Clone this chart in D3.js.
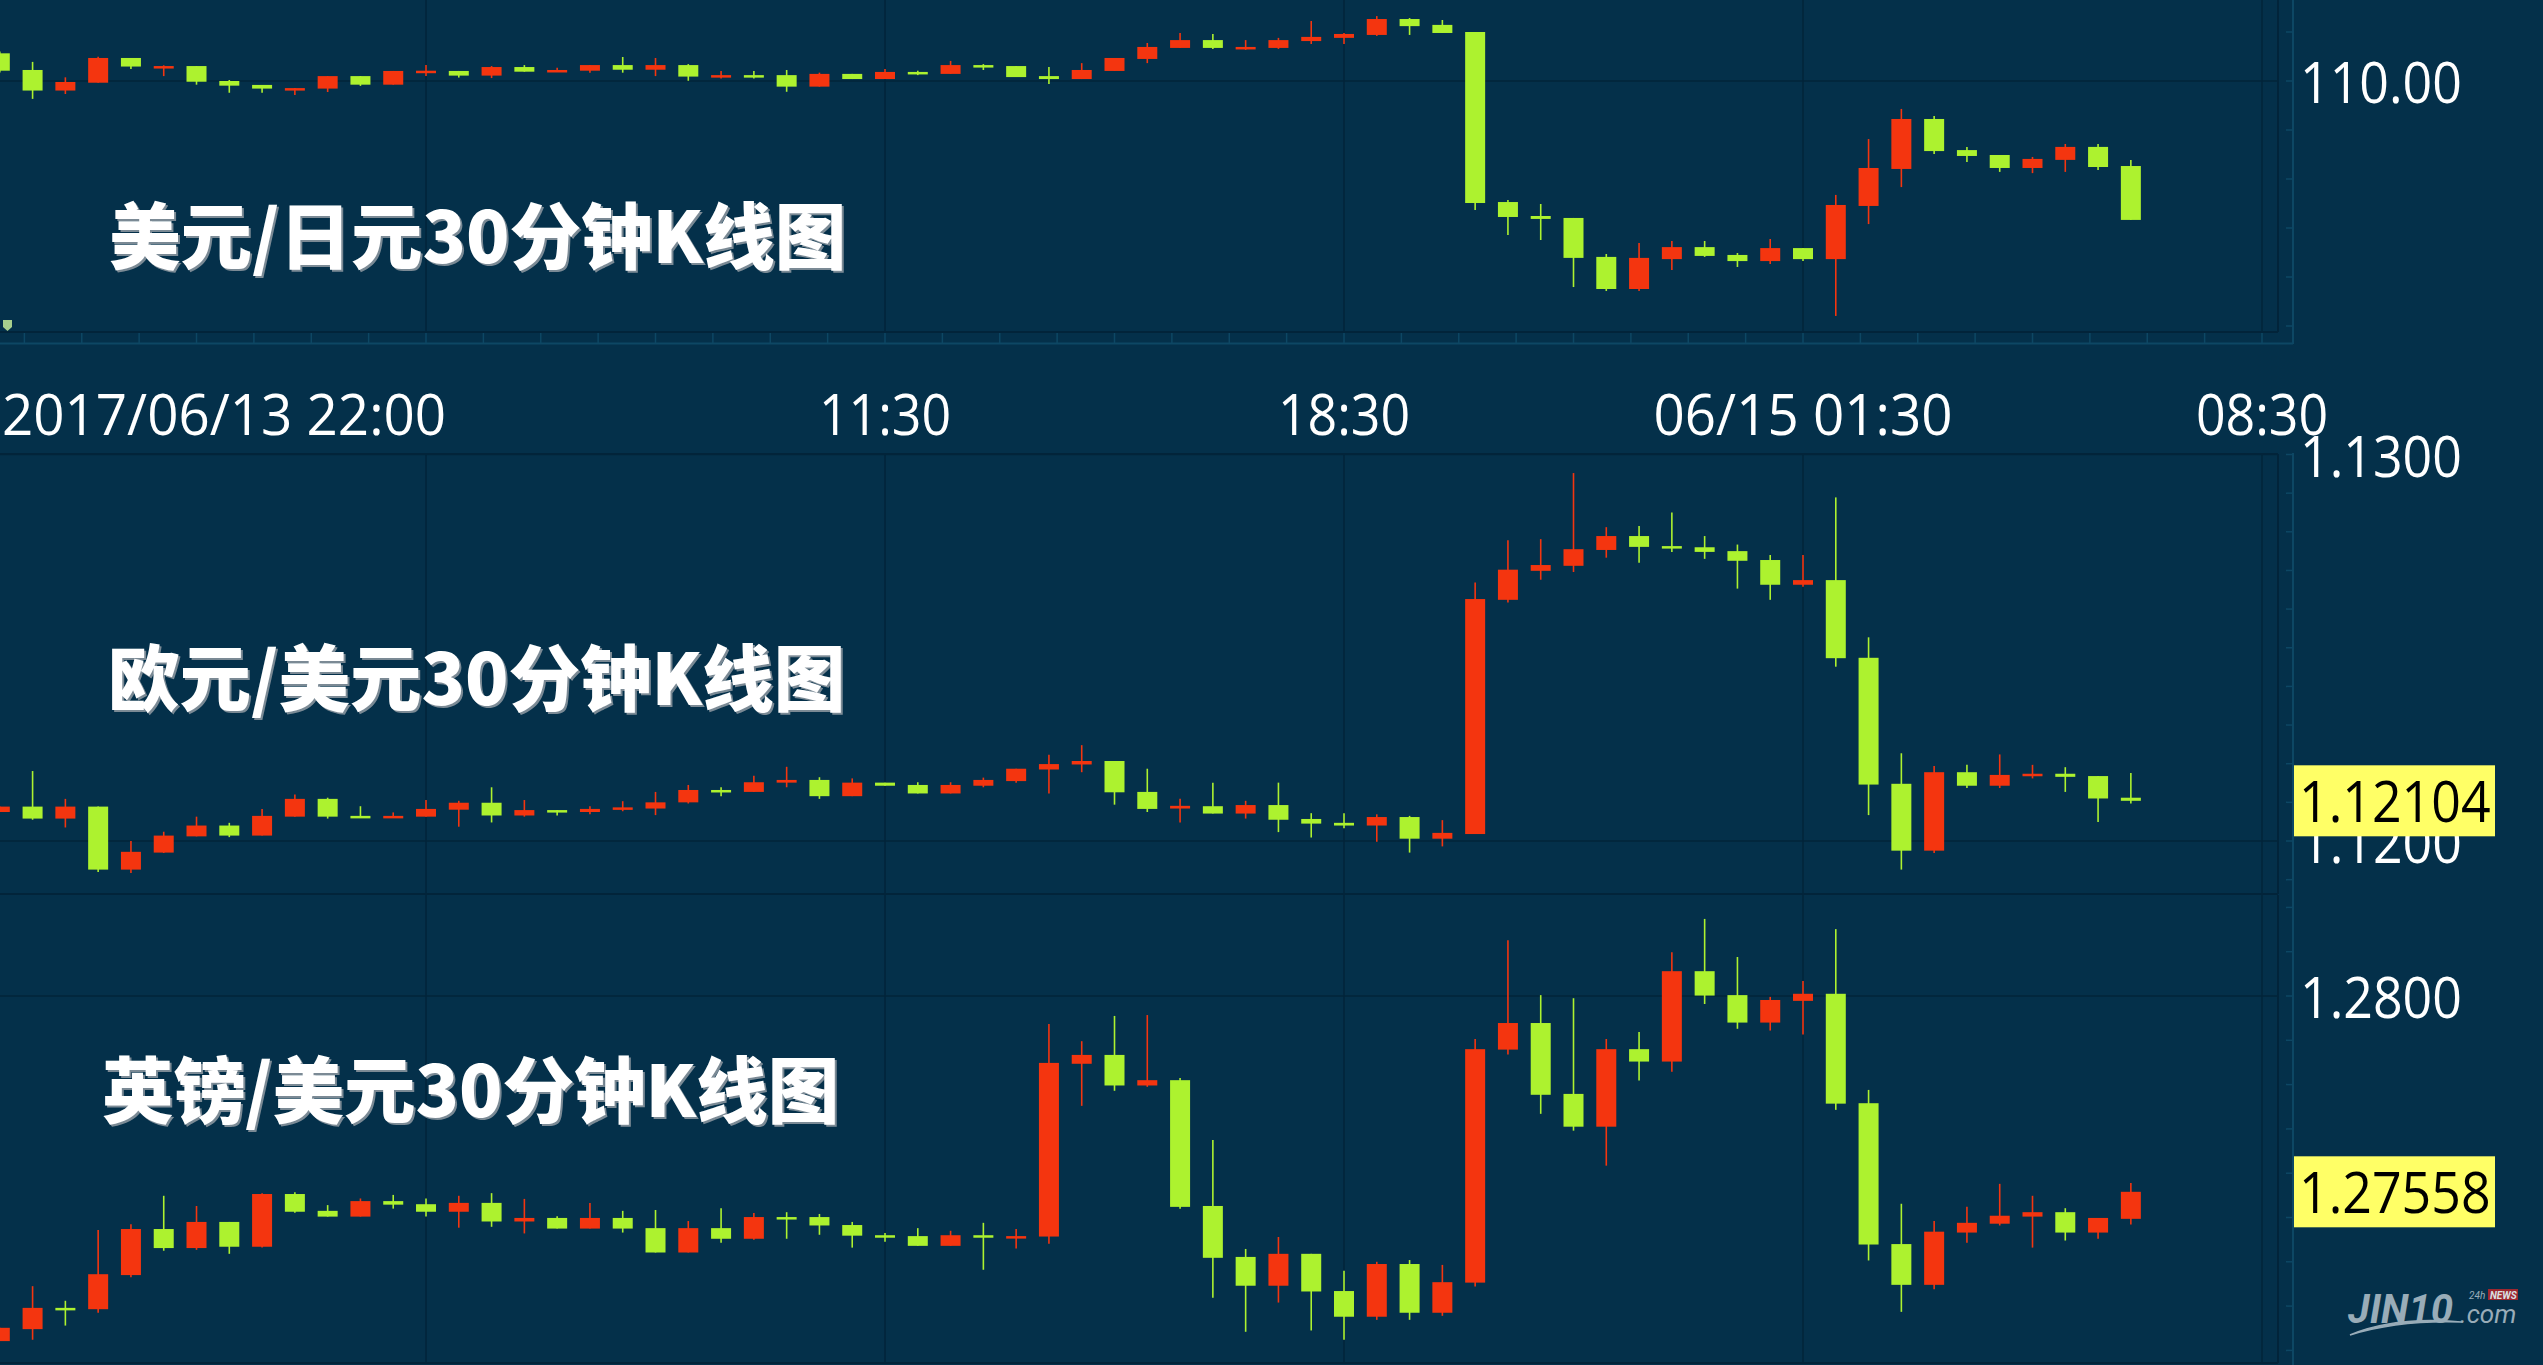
<!DOCTYPE html>
<html><head><meta charset="utf-8">
<script src="https://cdn.jsdelivr.net/npm/d3@7"></script>
<style>html,body{margin:0;padding:0;background:#04304a;overflow:hidden}</style>
</head><body><svg id="c" width="2543" height="1365"></svg>
<script>
// ---------- categories: 30-minute slots (last 4 are future slots on the axis) ----------
const slots = ["06/13 22:00","06/13 22:30","06/13 23:00","06/13 23:30",
"06/14 00:00","06/14 00:30","06/14 01:00","06/14 01:30","06/14 02:00","06/14 02:30","06/14 03:00","06/14 03:30",
"06/14 04:00","06/14 04:30","06/14 05:00","06/14 05:30","06/14 06:00","06/14 06:30","06/14 07:00","06/14 07:30",
"06/14 08:00","06/14 08:30","06/14 09:00","06/14 09:30","06/14 10:00","06/14 10:30","06/14 11:00","06/14 11:30",
"06/14 12:00","06/14 12:30","06/14 13:00","06/14 13:30","06/14 14:00","06/14 14:30","06/14 15:00","06/14 15:30",
"06/14 16:00","06/14 16:30","06/14 17:00","06/14 17:30","06/14 18:00","06/14 18:30","06/14 19:00","06/14 19:30",
"06/14 20:00","06/14 20:30","06/14 21:00","06/14 21:30","06/14 22:00","06/14 22:30","06/14 23:00","06/14 23:30",
"06/15 00:00","06/15 00:30","06/15 01:00","06/15 01:30","06/15 02:00","06/15 02:30","06/15 03:00","06/15 03:30",
"06/15 04:00","06/15 04:30","06/15 05:00","06/15 05:30","06/15 06:00","06/15 06:30",
"06/15 07:00","06/15 07:30","06/15 08:00","06/15 08:30"];
const timeTickSlots  = ["06/13 22:00","06/14 11:30","06/14 18:30","06/15 01:30","06/15 08:30"];
const timeTickLabels = ["2017/06/13 22:00","11:30","18:30","06/15 01:30","08:30"];
const gridSlots = ["06/14 04:30","06/14 11:30","06/14 18:30","06/15 01:30","06/15 08:30"];

// ---------- USD/JPY ----------
const jpyOpen = [110.113,110.045,109.961,109.993,110.094,110.059,110.061,110.000,109.984,109.969,
109.969,110.020,109.985,110.039,110.041,110.022,110.057,110.038,110.042,110.065,
110.046,110.065,110.018,110.024,110.024,109.977,110.029,110.008,110.037,110.029,
110.065,110.061,110.020,110.008,110.041,110.090,110.135,110.167,110.136,110.135,
110.163,110.176,110.188,110.253,110.229,110.200,109.506,109.449,109.441,109.282,
109.151,109.273,109.322,109.290,109.265,109.318,109.273,109.490,109.641,109.845,
109.718,109.698,109.645,109.678,109.731,109.653];
const jpyHigh = [110.120,110.078,110.015,110.099,110.094,110.064,110.061,110.004,109.984,109.971,
110.020,110.020,110.041,110.065,110.041,110.061,110.065,110.054,110.065,110.098,
110.094,110.069,110.041,110.041,110.045,110.034,110.029,110.049,110.042,110.082,
110.069,110.061,110.057,110.073,110.094,110.155,110.196,110.192,110.167,110.176,
110.245,110.196,110.265,110.257,110.249,110.200,109.514,109.498,109.441,109.294,
109.339,109.347,109.347,109.298,109.355,109.318,109.535,109.763,109.886,109.857,
109.731,109.698,109.690,109.743,109.743,109.678];
const jpyLow = [110.035,109.927,109.947,109.993,110.049,110.020,109.985,109.952,109.952,109.943,
109.955,109.980,109.985,110.020,110.014,110.012,110.038,110.037,110.034,110.034,
110.020,110.001,110.010,110.010,109.956,109.977,110.008,110.008,110.024,110.029,
110.045,110.016,109.988,110.008,110.041,110.073,110.135,110.131,110.127,110.131,
110.151,110.151,110.184,110.188,110.196,109.473,109.371,109.351,109.159,109.143,
109.143,109.229,109.282,109.241,109.253,109.265,109.041,109.416,109.567,109.702,
109.669,109.629,109.624,109.629,109.637,109.433];
const jpyClose = [110.042,109.961,109.996,110.094,110.059,110.061,109.997,109.981,109.969,109.971,
110.020,109.985,110.041,110.042,110.022,110.057,110.038,110.045,110.065,110.046,
110.065,110.018,110.024,110.022,109.977,110.029,110.008,110.037,110.029,110.065,
110.057,110.016,110.008,110.045,110.094,110.139,110.167,110.135,110.139,110.167,
110.180,110.192,110.253,110.224,110.196,109.502,109.445,109.437,109.278,109.151,
109.278,109.322,109.286,109.265,109.318,109.273,109.494,109.645,109.845,109.714,
109.694,109.645,109.682,109.731,109.649,109.433];

// ---------- EUR/USD ----------
const eurOpen = [1.12075,1.12089,1.12058,1.12089,1.11926,1.11970,1.12012,1.12040,1.12014,1.12063,
1.12109,1.12065,1.12061,1.12063,1.12081,1.12099,1.12066,1.12080,1.12075,1.12081,
1.12084,1.12100,1.12132,1.12127,1.12151,1.12158,1.12116,1.12151,1.12145,1.12123,
1.12143,1.12155,1.12185,1.12198,1.12207,1.12127,1.12084,1.12090,1.12071,1.12093,
1.12057,1.12047,1.12040,1.12062,1.12006,1.12018,1.12624,1.12699,1.12712,1.12753,
1.12789,1.12763,1.12760,1.12750,1.12727,1.12663,1.12675,1.12474,1.12148,1.11975,
1.12178,1.12143,1.12168,1.12174,1.12168,1.12112];
const eurHigh = [1.12089,1.12181,1.12109,1.12089,1.12000,1.12024,1.12063,1.12047,1.12083,1.12120,
1.12112,1.12090,1.12074,1.12106,1.12104,1.12139,1.12106,1.12080,1.12090,1.12103,
1.12127,1.12145,1.12139,1.12169,1.12192,1.12165,1.12162,1.12151,1.12152,1.12152,
1.12164,1.12187,1.12223,1.12248,1.12207,1.12187,1.12109,1.12151,1.12104,1.12151,
1.12072,1.12072,1.12069,1.12065,1.12054,1.12669,1.12778,1.12781,1.12952,1.12812,
1.12815,1.12850,1.12789,1.12767,1.12740,1.12740,1.12889,1.12527,1.12227,1.12194,
1.12197,1.12224,1.12197,1.12191,1.12168,1.12176];
const eurLow = [1.12075,1.12055,1.12035,1.11920,1.11917,1.11969,1.12012,1.12010,1.12014,1.12063,
1.12058,1.12061,1.12061,1.12063,1.12037,1.12048,1.12063,1.12066,1.12069,1.12077,
1.12067,1.12097,1.12116,1.12127,1.12139,1.12109,1.12116,1.12143,1.12123,1.12123,
1.12139,1.12151,1.12123,1.12178,1.12094,1.12075,1.12048,1.12071,1.12058,1.12023,
1.12009,1.12033,1.11998,1.11970,1.11986,1.12018,1.12617,1.12676,1.12696,1.12733,
1.12720,1.12748,1.12730,1.12653,1.12624,1.12658,1.12451,1.12067,1.11926,1.11969,
1.12137,1.12137,1.12162,1.12127,1.12049,1.12097];
const eurClose = [1.12089,1.12058,1.12089,1.11926,1.11972,1.12014,1.12040,1.12014,1.12065,1.12109,
1.12063,1.12061,1.12065,1.12083,1.12099,1.12066,1.12080,1.12075,1.12083,1.12087,
1.12100,1.12132,1.12127,1.12152,1.12158,1.12116,1.12151,1.12143,1.12123,1.12145,
1.12158,1.12187,1.12199,1.12207,1.12126,1.12083,1.12091,1.12071,1.12093,1.12055,
1.12045,1.12040,1.12062,1.12006,1.12021,1.12626,1.12702,1.12714,1.12755,1.12789,
1.12761,1.12758,1.12748,1.12725,1.12663,1.12675,1.12473,1.12146,1.11975,1.12178,
1.12143,1.12171,1.12174,1.12166,1.12110,1.12104];

// ---------- GBP/USD ----------
const gbpOpen = [1.27221,1.27248,1.27296,1.27293,1.27370,1.27474,1.27431,1.27490,1.27434,1.27553,
1.27515,1.27502,1.27537,1.27530,1.27513,1.27533,1.27491,1.27499,1.27475,1.27499,
1.27476,1.27421,1.27476,1.27452,1.27501,1.27501,1.27483,1.27460,1.27458,1.27436,
1.27460,1.27457,1.27457,1.27847,1.27867,1.27798,1.27810,1.27526,1.27411,1.27346,
1.27418,1.27334,1.27276,1.27395,1.27285,1.27353,1.27879,1.27939,1.27779,1.27705,
1.27880,1.27852,1.28056,1.28002,1.27940,1.27989,1.28005,1.27758,1.27440,1.27348,
1.27466,1.27486,1.27502,1.27512,1.27466,1.27497];
const gbpHigh = [1.27251,1.27345,1.27312,1.27472,1.27485,1.27549,1.27526,1.27490,1.27555,1.27557,
1.27528,1.27543,1.27551,1.27543,1.27549,1.27555,1.27542,1.27503,1.27533,1.27515,
1.27517,1.27492,1.27521,1.27510,1.27512,1.27508,1.27490,1.27465,1.27476,1.27470,
1.27488,1.27474,1.27937,1.27898,1.27955,1.27957,1.27815,1.27675,1.27429,1.27456,
1.27418,1.27380,1.27400,1.27404,1.27393,1.27903,1.28126,1.28002,1.27995,1.27903,
1.27919,1.28099,1.28174,1.28088,1.27998,1.28034,1.28151,1.27788,1.27531,1.27492,
1.27524,1.27576,1.27549,1.27521,1.27499,1.27578];
const gbpLow = [1.27221,1.27224,1.27256,1.27285,1.27365,1.27425,1.27427,1.27418,1.27432,1.27511,
1.27502,1.27502,1.27520,1.27502,1.27477,1.27479,1.27464,1.27475,1.27475,1.27466,
1.27421,1.27421,1.27443,1.27450,1.27452,1.27461,1.27432,1.27445,1.27436,1.27436,
1.27382,1.27430,1.27441,1.27752,1.27786,1.27795,1.27520,1.27319,1.27242,1.27308,
1.27245,1.27224,1.27269,1.27269,1.27278,1.27344,1.27868,1.27734,1.27696,1.27617,
1.27809,1.27829,1.27982,1.27926,1.27922,1.27913,1.27743,1.27403,1.27287,1.27338,
1.27443,1.27482,1.27432,1.27448,1.27452,1.27484];
const gbpClose = [1.27251,1.27296,1.27294,1.27372,1.27474,1.27431,1.27490,1.27434,1.27553,1.27513,
1.27502,1.27537,1.27529,1.27513,1.27533,1.27491,1.27499,1.27475,1.27499,1.27475,
1.27421,1.27476,1.27452,1.27501,1.27500,1.27482,1.27459,1.27457,1.27436,1.27460,
1.27457,1.27458,1.27849,1.27867,1.27798,1.27810,1.27524,1.27409,1.27346,1.27418,
1.27333,1.27276,1.27395,1.27285,1.27354,1.27880,1.27939,1.27777,1.27705,1.27880,
1.27852,1.28056,1.28001,1.27940,1.27991,1.28005,1.27757,1.27439,1.27348,1.27468,
1.27488,1.27504,1.27512,1.27466,1.27499,1.27558];

const titles = ["美元/日元30分钟K线图","欧元/美元30分钟K线图","英镑/美元30分钟K线图"];
const jpyPriceLabels = [110.00];
const eurPriceLabels = [1.1300, 1.1200];
const gbpPriceLabels = [1.2800];

// ---------- style ----------
const W = 2543, H = 1365;
const BG = "#04304a", GRID = "#02243a", AXIS = "#0d4764", UP = "#f4350f", DOWN = "#adf22f";
const PLOT_R = 2278, AXIS_X = 2293;
const NUMFONT = "'Open Sans','Noto Sans',sans-serif";

const svg = d3.select("#c");
svg.append("rect").attr("width", W).attr("height", H).attr("fill", BG);

const x = d3.scalePoint().domain(slots).range([-0.2, 2262]);
const bodyW = 20;

const panels = [
  {key:"jpy", o:jpyOpen, h:jpyHigh, l:jpyLow, c:jpyClose, top:0, bottom:332,
   y:d3.scaleLinear().domain([109,110]).range([326,81]), step:0.2, labels:jpyPriceLabels,
   fmt:d3.format(".2f"), last:null, tx:109, ty:232, title:titles[0]},
  {key:"eur", o:eurOpen, h:eurHigh, l:eurLow, c:eurClose, top:454, bottom:894,
   y:d3.scaleLinear().domain([1.12,1.13]).range([841,454.5]), step:0.001, labels:eurPriceLabels,
   fmt:d3.format(".4f"), last:eurClose[eurClose.length-1], tx:108, ty:674, title:titles[1]},
  {key:"gbp", o:gbpOpen, h:gbpHigh, l:gbpLow, c:gbpClose, top:895, bottom:1363,
   y:d3.scaleLinear().domain([1.27,1.28]).range([1439,996]), step:0.001, labels:gbpPriceLabels,
   fmt:d3.format(".4f"), last:gbpClose[gbpClose.length-1], tx:102, ty:1086, title:titles[2]}
];

const defs = svg.append("defs");

panels.forEach((p, pi) => {
  const g = svg.append("g");
  defs.append("clipPath").attr("id", "clip" + pi)
    .append("rect").attr("x", 0).attr("y", p.top).attr("width", PLOT_R).attr("height", p.bottom - p.top);

  // vertical grid
  g.selectAll(".vg").data(gridSlots).join("line")
    .attr("x1", d => x(d)).attr("x2", d => x(d))
    .attr("y1", p.top).attr("y2", p.bottom)
    .attr("stroke", GRID).attr("stroke-width", 1.5);
  // horizontal grid
  g.selectAll(".hg").data(p.labels).join("line")
    .attr("x1", 0).attr("x2", PLOT_R)
    .attr("y1", d => p.y(d)).attr("y2", d => p.y(d))
    .attr("stroke", GRID).attr("stroke-width", 1.5);
  // borders
  g.append("line").attr("x1", PLOT_R).attr("x2", PLOT_R).attr("y1", p.top).attr("y2", p.bottom)
    .attr("stroke", GRID).attr("stroke-width", 2);
  g.append("line").attr("x1", 0).attr("x2", PLOT_R).attr("y1", p.bottom).attr("y2", p.bottom)
    .attr("stroke", GRID).attr("stroke-width", 2);
  if (pi === 1) g.append("line").attr("x1", 0).attr("x2", PLOT_R).attr("y1", p.top).attr("y2", p.top)
    .attr("stroke", GRID).attr("stroke-width", 2);

  // title (shadow + white)
  [["#7b8a95", 2], ["#ffffff", 0]].forEach(([col, off]) => {
    g.append("text").text(p.title)
      .attr("x", p.tx + off).attr("y", p.ty + off)
      .attr("dominant-baseline", "central")
      .attr("font-family", "'Noto Sans CJK SC','Noto Sans',sans-serif")
      .attr("font-weight", 900).attr("font-size", 71.5)
      .attr("fill", col);
  });

  // candles
  const idx = d3.range(p.o.length);
  const cg = g.append("g").attr("clip-path", `url(#clip${pi})`);
  const col = i => p.c[i] >= p.o[i] ? UP : DOWN;
  cg.selectAll(".wick").data(idx).join("line")
    .attr("x1", i => x(slots[i])).attr("x2", i => x(slots[i]))
    .attr("y1", i => p.y(p.h[i])).attr("y2", i => p.y(p.l[i]))
    .attr("stroke", col).attr("stroke-width", 1.6);
  cg.selectAll(".body").data(idx).join("rect")
    .attr("x", i => x(slots[i]) - bodyW / 2).attr("width", bodyW)
    .attr("y", i => Math.min(p.y(p.o[i]), p.y(p.c[i])))
    .attr("height", i => Math.max(2.5, Math.abs(p.y(p.o[i]) - p.y(p.c[i]))))
    .attr("fill", col);

  // right axis minor ticks
  const lo = Math.min(p.y.invert(p.bottom), p.y.invert(p.top));
  const hi = Math.max(p.y.invert(p.bottom), p.y.invert(p.top));
  const ticks = d3.range(Math.ceil(lo / p.step - 1e-6), Math.floor(hi / p.step + 1e-6) + 1).map(k => k * p.step);
  g.selectAll(".rt").data(ticks).join("line")
    .attr("x1", AXIS_X - 7).attr("x2", AXIS_X)
    .attr("y1", d => p.y(d)).attr("y2", d => p.y(d))
    .attr("stroke", AXIS).attr("stroke-width", 1.5);

  // axis labels
  g.selectAll(".lab").data(p.labels).join("text")
    .text(d => p.fmt(d))
    .attr("transform", d => `translate(2300,${p.y(d) + 22})scale(0.91,1)`)
    .attr("font-family", NUMFONT).attr("font-size", 57).attr("fill", "#ffffff");

  // last price box
  if (p.last !== null) {
    const yl = p.y(p.last);
    g.append("rect").attr("x", 2294).attr("y", yl - 35.5).attr("width", 201).attr("height", 71)
      .attr("fill", "#ffff66");
    g.append("text").text(d3.format(".5f")(p.last))
      .attr("transform", `translate(2299,${yl + 21.5})scale(0.91,1)`)
      .attr("font-family", NUMFONT).attr("font-size", 57).attr("fill", "#000000");
  }
});

// right axis vertical line
svg.append("line").attr("x1", AXIS_X).attr("x2", AXIS_X).attr("y1", 0).attr("y2", 344)
  .attr("stroke", AXIS).attr("stroke-width", 2);
svg.append("line").attr("x1", AXIS_X).attr("x2", AXIS_X).attr("y1", 453).attr("y2", H)
  .attr("stroke", AXIS).attr("stroke-width", 2);

// time strip under first panel
const stepX = (x(gridSlots[1]) - x(gridSlots[0])) / 8;
const stripTicks = d3.range(-7, 33).map(k => x(gridSlots[0]) + k * stepX).filter(v => v > 0 && v < PLOT_R);
svg.append("line").attr("x1", 0).attr("x2", AXIS_X).attr("y1", 343.5).attr("y2", 343.5)
  .attr("stroke", AXIS).attr("stroke-width", 2);
svg.selectAll(".st").data(stripTicks).join("line")
  .attr("x1", d => d).attr("x2", d => d).attr("y1", 333).attr("y2", 343)
  .attr("stroke", AXIS).attr("stroke-width", 1.5);

// time labels
svg.selectAll(".tl").data(timeTickSlots).join("text")
  .text((d, i) => timeTickLabels[i])
  .attr("transform", (d, i) => `translate(${i === 0 ? 2 : x(d)},435)scale(${(i === 0 || i === 3) ? 0.96 : 0.91},1)`)
  .attr("text-anchor", (d, i) => i === 0 ? "start" : "middle")
  .attr("font-family", NUMFONT).attr("font-size", 57).attr("fill", "#ffffff");

// small marker bottom-left of first panel
svg.append("path").attr("d", "M3,320 L12,320 L12,327 L7.5,331 L3,327 Z").attr("fill", "#a8d08d");

// watermark
const wm = svg.append("g").attr("opacity", 0.85);
wm.append("text").text("JIN10").attr("x", 2348).attr("y", 1323)
  .attr("font-family", "Roboto,'Open Sans',sans-serif").attr("font-weight", 700).attr("font-style", "italic")
  .attr("font-size", 40).attr("fill", "#b3c2cc");
wm.append("text").text(".com").attr("x", 2460).attr("y", 1323)
  .attr("font-family", "Roboto,'Open Sans',sans-serif").attr("font-style", "italic")
  .attr("font-size", 26).attr("fill", "#b3c2cc");
wm.append("text").text("24h").attr("x", 2469).attr("y", 1299)
  .attr("font-family", "Roboto,sans-serif").attr("font-style", "italic")
  .attr("font-size", 10).attr("fill", "#b3c2cc");
wm.append("rect").attr("x", 2488).attr("y", 1289).attr("width", 30).attr("height", 11).attr("fill", "#b8272c");
wm.append("text").text("NEWS").attr("x", 2490).attr("y", 1299)
  .attr("font-family", "Roboto,sans-serif").attr("font-weight", 700).attr("font-style", "italic")
  .attr("font-size", 10).attr("fill", "#ffffff");
wm.append("path").attr("d", "M2350,1335 Q2395,1316 2461,1322 Q2398,1320 2350,1335 Z")
  .attr("fill", "#b3c2cc").attr("stroke", "#b3c2cc").attr("stroke-width", 1.5);
</script>
</body></html>
